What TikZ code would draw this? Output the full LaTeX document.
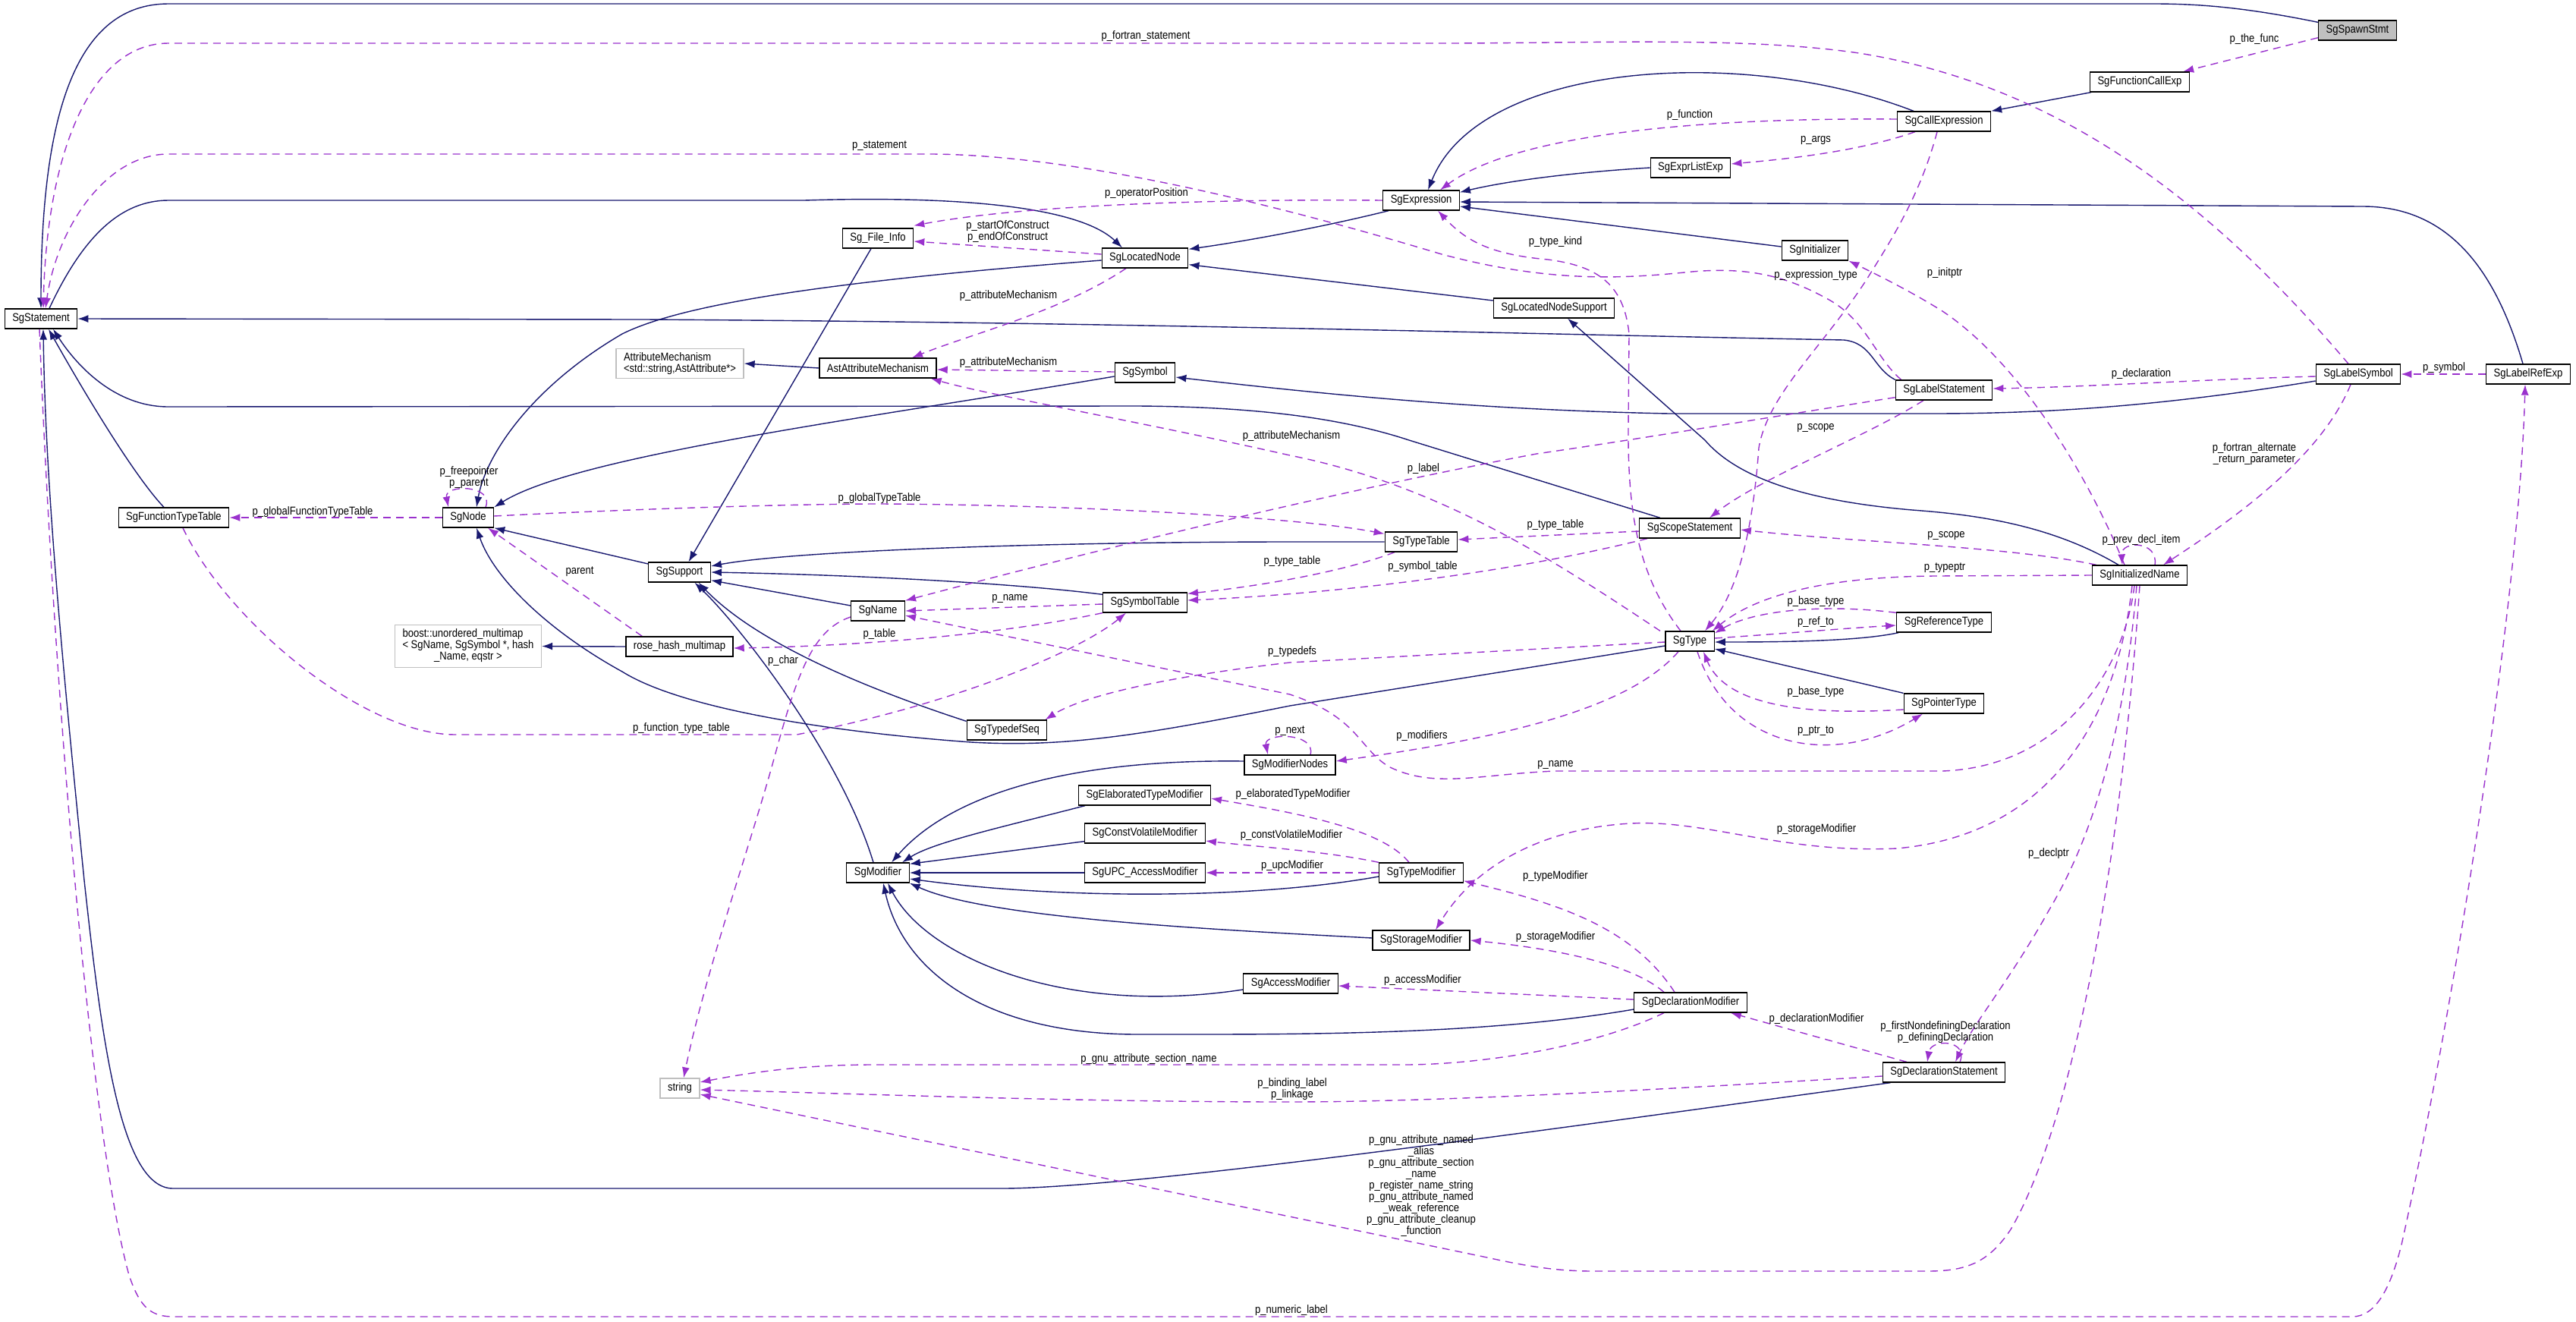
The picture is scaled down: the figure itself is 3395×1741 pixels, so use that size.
\documentclass[tikz,border=0pt]{standalone}
\usepackage{fontspec}
\setmainfont{Liberation Sans}[FakeStretch=0.87]
\usepackage{tikz}
\usetikzlibrary{arrows.meta,backgrounds}
\definecolor{inhblue}{HTML}{191970}
\definecolor{usepurple}{HTML}{9A32CD}
\definecolor{boxgray}{HTML}{BFBFBF}
\newcommand{\dgfont}{\fontsize{15}{15}\selectfont}
\tikzset{
  cls/.style={draw=black, line width=1.3pt, fill=white, font=\dgfont, minimum height=26pt, inner xsep=10pt, inner ysep=5pt},
  ext/.style={cls, draw=boxgray},
  root/.style={cls, fill=boxgray},
  inh/.style={draw=inhblue, line width=1.4pt, -{Latex[length=14pt,width=10pt]}},
  member/.style={draw=usepurple, line width=1.4pt, dash pattern=on 10pt off 7pt, -{Latex[length=14pt,width=10pt]}},
  lbl/.style={font=\dgfont, inner sep=0pt, align=center}
}

\begin{document}
\begin{tikzpicture}[x=1pt,y=-1pt]
    \useasboundingbox (0,0) rectangle (3395,1741);
    % Classes
    \node[root] (SgSpawnStmt) at (3107,40) {SgSpawnStmt};
    \node[cls] (SgFunctionCallExp) at (2820,108) {SgFunctionCallExp};
    \node[cls] (SgCallExpression) at (2562,160) {SgCallExpression};
    \node[cls] (SgExprListExp) at (2228,221) {SgExprListExp};
    \node[cls] (SgExpression) at (1873,264) {SgExpression};
    \node[cls] (SgInitializer) at (2392,330) {SgInitializer};
    \node[cls] (SgLocatedNodeSupport) at (2048,406) {SgLocatedNodeSupport};
    \node[cls] (SgLabelStatement) at (2562,514) {SgLabelStatement};
    \node[cls] (SgFileInfo) at (1157,314) {Sg\_File\_Info};
    \node[cls] (SgLocatedNode) at (1509,340) {SgLocatedNode};
    \node[cls] (AstAttributeMechanism) at (1157,485) {AstAttributeMechanism};
    \node[ext, align=left] (AttributeMechanism) at (896,479) {AttributeMechanism\\<std::string,AstAttribute*>};
    \node[cls] (SgSymbol) at (1509,491) {SgSymbol};
    \node[cls] (SgLabelSymbol) at (3108,493) {SgLabelSymbol};
    \node[cls] (SgLabelRefExp) at (3332,493) {SgLabelRefExp};
    \node[cls] (SgStatement) at (54,420) {SgStatement};
    \node[cls] (SgFunctionTypeTable) at (229,682) {SgFunctionTypeTable};
    \node[cls] (SgNode) at (617,682) {SgNode};
    \node[ext] (boostmap) at (617,851.5) {\begin{tabular}{@{}l@{}}boost::unordered\_multimap\\< SgName, SgSymbol *, hash\\\multicolumn{1}{@{}c@{}}{\_Name, eqstr >}\end{tabular}};
    \node[cls] (rosehash) at (895.5,852) {rose\_hash\_multimap};
    \node[cls] (SgSupport) at (895.5,754) {SgSupport};
    \node[cls] (SgName) at (1157,805) {SgName};
    \node[cls] (SgSymbolTable) at (1509,794) {SgSymbolTable};
    \node[cls] (SgTypeTable) at (1873,714) {SgTypeTable};
    \node[cls] (SgScopeStatement) at (2227,696) {SgScopeStatement};
    \node[cls] (SgType) at (2227,845) {SgType};
    \node[cls] (SgReferenceType) at (2562,820) {SgReferenceType};
    \node[cls] (SgPointerType) at (2562,927) {SgPointerType};
    \node[cls] (SgInitializedName) at (2820,758) {SgInitializedName};
    \node[cls] (SgTypedefSeq) at (1327,962) {SgTypedefSeq};
    \node[cls] (SgModifierNodes) at (1700,1008) {SgModifierNodes};
    \node[cls] (SgElaboratedTypeModifier) at (1508.5,1048) {SgElaboratedTypeModifier};
    \node[cls] (SgConstVolatileModifier) at (1509,1098) {SgConstVolatileModifier};
    \node[cls] (SgUPCAccessModifier) at (1509,1150) {SgUPC\_AccessModifier};
    \node[cls] (SgModifier) at (1157,1150) {SgModifier};
    \node[cls] (SgTypeModifier) at (1873,1150) {SgTypeModifier};
    \node[cls] (SgStorageModifier) at (1873,1239) {SgStorageModifier};
    \node[cls] (SgAccessModifier) at (1701,1296) {SgAccessModifier};
    \node[cls] (SgDeclarationModifier) at (2228,1321) {SgDeclarationModifier};
    \node[cls] (SgDeclarationStatement) at (2562,1413) {SgDeclarationStatement};
    \node[ext] (string) at (896,1434) {string};

    % Member labels
    \node[lbl] (lTheFunc) at (2971,52) {p\_the\_func};
    \node[lbl] (lFortranStmt) at (1510,48) {p\_fortran\_statement};
    \node[lbl] (lStatement) at (1159,192) {p\_statement};
    \node[lbl] (lFunction) at (2227,152) {p\_function};
    \node[lbl] (lArgs) at (2393,185) {p\_args};
    \node[lbl] (lOperatorPos) at (1511,255) {p\_operatorPosition};
    \node[lbl] (lConstruct) at (1328,305.5) {p\_startOfConstruct\\p\_endOfConstruct};
    \node[lbl] (lTypeKind) at (2050,319) {p\_type\_kind};
    \node[lbl] (lExprType) at (2393,363) {p\_expression\_type};
    \node[lbl] (lInitptr) at (2563,360) {p\_initptr};
    \node[lbl] (lAttrA) at (1329,390) {p\_attributeMechanism};
    \node[lbl] (lAttrB) at (1329,478) {p\_attributeMechanism};
    \node[lbl] (lDeclaration) at (2822,493) {p\_declaration};
    \node[lbl] (lSymbol) at (3221,485) {p\_symbol};
    \node[lbl] (lScopeA) at (2393,564) {p\_scope};
    \node[lbl] (lAttrC) at (1702,574.5) {p\_attributeMechanism};
    \node[lbl] (lAltReturn) at (2971,598) {p\_fortran\_alternate\\\_return\_parameter};
    \node[lbl] (lLabel) at (1876,618) {p\_label};
    \node[lbl] (lFreeParent) at (618,629.5) {p\_freepointer\\p\_parent};
    \node[lbl] (lGlobalType) at (1159,656.6) {p\_globalTypeTable};
    \node[lbl] (lGlobalFunc) at (412,675) {p\_globalFunctionTypeTable};
    \node[lbl] (lTypeTableA) at (2050,692) {p\_type\_table};
    \node[lbl] (lScopeB) at (2565,706) {p\_scope};
    \node[lbl] (lPrevDecl) at (2822,712) {p\_prev\_decl\_item};
    \node[lbl] (lTypeTableB) at (1703,740) {p\_type\_table};
    \node[lbl] (lSymbolTable) at (1875,746.5) {p\_symbol\_table};
    \node[lbl] (lTypeptr) at (2563,748) {p\_typeptr};
    \node[lbl] (lParent) at (764,753) {parent};
    \node[lbl] (lNameA) at (1331,789) {p\_name};
    \node[lbl] (lBaseTypeA) at (2393,793) {p\_base\_type};
    \node[lbl] (lRefTo) at (2393,820) {p\_ref\_to};
    \node[lbl] (lTable) at (1159,836) {p\_table};
    \node[lbl] (lTypedefs) at (1703,859) {p\_typedefs};
    \node[lbl] (lChar) at (1032,871) {p\_char};
    \node[lbl] (lBaseTypeB) at (2393,911.5) {p\_base\_type};
    \node[lbl] (lFuncTypeTable) at (898,960) {p\_function\_type\_table};
    \node[lbl] (lNext) at (1700,963) {p\_next};
    \node[lbl] (lPtrTo) at (2393,963) {p\_ptr\_to};
    \node[lbl] (lModifiers) at (1874,970) {p\_modifiers};
    \node[lbl] (lNameB) at (2050,1008) {p\_name};
    \node[lbl] (lElaborated) at (1704,1047) {p\_elaboratedTypeModifier};
    \node[lbl] (lStorageA) at (2394,1093) {p\_storageModifier};
    \node[lbl] (lConstVolatile) at (1702,1100.6) {p\_constVolatileModifier};
    \node[lbl] (lDeclptr) at (2700,1124.6) {p\_declptr};
    \node[lbl] (lUpc) at (1703,1141) {p\_upcModifier};
    \node[lbl] (lTypeModifier) at (2050,1154.5) {p\_typeModifier};
    \node[lbl] (lStorageB) at (2050,1235) {p\_storageModifier};
    \node[lbl] (lAccess) at (1875,1291.5) {p\_accessModifier};
    \node[lbl] (lDeclModifier) at (2394,1342.6) {p\_declarationModifier};
    \node[lbl] (lDefining) at (2564,1360) {p\_firstNondefiningDeclaration\\p\_definingDeclaration};
    \node[lbl] (lSectionName) at (1514,1395.6) {p\_gnu\_attribute\_section\_name};
    \node[lbl] (lBinding) at (1703,1435.5) {p\_binding\_label\\p\_linkage};
    \node[lbl] (lGnu) at (1873,1563) {p\_gnu\_attribute\_named\\\_alias\\p\_gnu\_attribute\_section\\\_name\\p\_register\_name\_string\\p\_gnu\_attribute\_named\\\_weak\_reference\\p\_gnu\_attribute\_cleanup\\\_function};
    \node[lbl] (lNumeric) at (1702,1727) {p\_numeric\_label};

    \begin{scope}[on background layer]
    % Inheritance
    \draw[inh] ([yshift=-3pt]SgSpawnStmt.north west) .. controls (2960,10) and (2900,5) .. (2838,5) -- (222,5) .. controls (100,5) and (54,150) .. (SgStatement.north);
    \draw[inh] ([xshift=2pt]SgFunctionCallExp.south west) -- (SgCallExpression.north east);
    \draw[inh] ([xshift=-40pt]SgCallExpression.north) .. controls (2300,60) and (1950,80) .. ([xshift=9pt]SgExpression.north);
    \draw[inh] (SgExprListExp.west) .. controls (2060,228) and (1980,240) .. ([yshift=-3pt]SgExpression.north east);
    \draw[inh] ([xshift=-7pt]SgLabelRefExp.north) .. controls (3290,360) and (3230,272) .. (3114,272) -- ([yshift=-2pt]SgExpression.east);
    \draw[inh] ([yshift=5pt]SgInitializer.west) -- ([yshift=-8pt]SgExpression.east);
    \draw[inh] ([xshift=8pt]SgExpression.south west) .. controls (1740,300) and (1640,318) .. ([yshift=-2pt]SgLocatedNode.north east);
    \draw[inh] ([yshift=10pt]SgLocatedNodeSupport.west) -- ([yshift=5pt]SgLocatedNode.south east);
    \draw[inh] ([xshift=11pt]SgStatement.north) .. controls (110,310) and (160,264) .. (222,264) -- (1060,264) .. controls (1250,258) and (1420,270) .. ([xshift=-30pt]SgLocatedNode.north);
    \draw[inh] ([yshift=-3pt]SgLocatedNode.west) .. controls (1100,370) and (900,400) .. (820,440) .. controls (700,510) and (640,600) .. ([xshift=11pt]SgNode.north);
    \draw[inh] (SgLabelStatement.north west) .. controls (2468,485) and (2468,452) .. (2430,448) .. controls (2000,440) and (1500,425) .. (850,421) -- (SgStatement.east);
    \draw[inh] ([xshift=-39pt]SgScopeStatement.north) -- (1857,580) .. controls (1760,548) and (1640,536) .. (1500,535) -- (222,536) .. controls (150,536) and (100,480) .. ([xshift=16pt]SgStatement.south);
    \draw[inh] ([xshift=-13pt]SgFunctionTypeTable.north) .. controls (170,620) and (90,480) .. ([xshift=10pt]SgStatement.south);
    \draw[inh] ([xshift=11pt]SgDeclarationStatement.south west) .. controls (2100,1480) and (1500,1566) .. (1320,1566) -- (228,1566) .. controls (160,1566) and (135,1380) .. (111,1160) .. controls (85,900) and (60,650) .. ([xshift=3pt]SgStatement.south);
    \draw[inh] (AstAttributeMechanism.west) -- (AttributeMechanism.east);
    \draw[inh] ([xshift=-9pt]SgFileInfo.south) -- ([xshift=12pt]SgSupport.north);
    \draw[inh] ([yshift=-5pt]SgSymbol.west) .. controls (1150,550) and (760,600) .. (SgNode.north east);
    \draw[inh] ([yshift=11pt]SgSupport.west) -- (SgNode.south east);
    \draw[inh] ([yshift=-6pt]SgType.west) -- (1700,930) .. controls (1500,970) and (1400,985) .. (1280,978) .. controls (1100,965) and (900,935) .. (820,885) .. controls (720,830) and (650,760) .. ([xshift=11pt]SgNode.south);
    \draw[inh] (rosehash.west) -- (boostmap.east);
    \draw[inh] ([yshift=7pt]SgName.west) -- ([yshift=3pt]SgSupport.south east);
    \draw[inh] ([yshift=-3pt]SgSymbolTable.north west) .. controls (1350,770) and (1150,758) .. (SgSupport.east);
    \draw[inh] (SgTypeTable.west) -- (1700,714) .. controls (1400,714) and (1050,725) .. ([yshift=8pt]SgSupport.east);
    \draw[inh] ([yshift=-2pt]SgTypedefSeq.north west) .. controls (1150,910) and (1000,850) .. ([xshift=25pt]SgSupport.south);
    \draw[inh] ([xshift=-6pt]SgModifier.north) .. controls (1110,1000) and (980,830) .. ([xshift=20pt]SgSupport.south);
    \draw[inh] ([yshift=5pt]SgModifierNodes.west) .. controls (1400,1000) and (1250,1050) .. ([xshift=18pt]SgModifier.north);
    \draw[inh] ([xshift=9pt]SgElaboratedTypeModifier.south west) .. controls (1320,1090) and (1230,1110) .. ([xshift=32pt]SgModifier.north);
    \draw[inh] ([yshift=3pt]SgConstVolatileModifier.south west) -- ([yshift=-2pt]SgModifier.north east);
    \draw[inh] (SgUPCAccessModifier.west) -- (SgModifier.east);
    \draw[inh] ([yshift=-5pt]SgTypeModifier.west) .. controls (1650,1185) and (1400,1185) .. ([yshift=-8pt]SgModifier.east);
    \draw[inh] ([yshift=3pt]SgStorageModifier.west) .. controls (1600,1225) and (1300,1210) .. (SgModifier.south east);
    \draw[inh] ([yshift=-8pt]SgAccessModifier.west) .. controls (1400,1340) and (1220,1260) .. ([xshift=13pt]SgModifier.south);
    \draw[inh] ([yshift=-9pt]SgDeclarationModifier.west) .. controls (1950,1365) and (1700,1363) .. (1500,1363) .. controls (1300,1363) and (1190,1280) .. ([xshift=7pt]SgModifier.south);
    \draw[inh] ([yshift=-9pt]SgLabelSymbol.west) .. controls (2850,535) and (2700,545) .. (2545,545) -- (2200,545) .. controls (1950,540) and (1750,520) .. ([yshift=-6pt]SgSymbol.east);
    \draw[inh] ([xshift=-28pt]SgInitializedName.north) .. controls (2700,690) and (2600,678) .. (2520,672) .. controls (2380,660) and (2290,630) .. (2247,580) -- ([xshift=18pt]SgLocatedNodeSupport.south);
    \draw[inh] ([xshift=3pt]SgReferenceType.south west) .. controls (2450,845) and (2350,846) .. ([yshift=-1pt]SgType.east);
    \draw[inh] (SgPointerType.north west) -- ([yshift=-10pt]SgType.east);

    % Members
    \draw[member] ([yshift=4pt]SgSpawnStmt.south west) -- ([xshift=-9pt]SgFunctionCallExp.north east);
    \draw[member] ([xshift=-13pt]SgLabelSymbol.north) .. controls (2900,250) and (2700,110) .. (2450,70) .. controls (2300,48) and (2100,57) .. (1900,57) -- (222,57) .. controls (120,57) and (62,200) .. ([xshift=3pt]SgStatement.north);
    \draw[member] ([xshift=8pt]SgLabelStatement.north west) .. controls (2470,470) and (2460,420) .. (2405,392) .. controls (2350,362) and (2300,352) .. (2230,358) .. controls (2150,366) and (2050,375) .. (1900,335) .. controls (1750,290) and (1450,205) .. (1229,203) -- (222,203) .. controls (140,203) and (75,300) .. ([xshift=6pt]SgStatement.north);
    \draw[member] ([yshift=3pt]SgCallExpression.west) .. controls (2250,155) and (2000,175) .. ([xshift=25pt]SgExpression.north);
    \draw[member] ([xshift=-38pt]SgCallExpression.south) .. controls (2450,200) and (2350,210) .. ([yshift=5pt]SgExprListExp.east);
    \draw[member] (SgExpression.west) .. controls (1600,262) and (1350,270) .. ([yshift=3pt]SgFileInfo.north east);
    \draw[member] ([yshift=5pt]SgLocatedNode.west) -- ([yshift=-4pt]SgFileInfo.east);
    \draw[member] ([xshift=-25pt]SgLocatedNode.south) .. controls (1400,410) and (1280,440) .. ([xshift=45pt]AstAttributeMechanism.north);
    \draw[member] ([yshift=1pt]SgSymbol.west) -- ([yshift=-2pt]AstAttributeMechanism.east);
    \draw[member] ([xshift=-39pt]SgType.north) .. controls (2050,740) and (1900,640) .. (1700,600) .. controls (1500,555) and (1300,520) .. ([xshift=-8pt]AstAttributeMechanism.south east);
    \draw[member] ([yshift=4pt]SgLabelStatement.south west) .. controls (2300,555) and (2150,580) .. (2025,598) .. controls (1800,640) and (1500,710) .. (SgName.north east);
    \draw[member] ([yshift=-3pt]SgLabelSymbol.west) .. controls (2900,500) and (2750,510) .. ([yshift=2pt]SgLabelStatement.east);
    \draw[member] (SgLabelRefExp.west) -- (SgLabelSymbol.east);
    \draw[member] ([xshift=-27pt]SgLabelStatement.south) .. controls (2460,575) and (2320,630) .. ([xshift=26pt]SgScopeStatement.north);
    \draw[member] ([xshift=6pt]SgInitializedName.north west) .. controls (2650,720) and (2450,715) .. ([yshift=-2pt]SgScopeStatement.east);
    \draw[member] ([yshift=-4pt]SgScopeStatement.west) -- ([yshift=3pt]SgTypeTable.east);
    \draw[member] ([xshift=11pt]SgScopeStatement.south west) .. controls (1950,765) and (1700,785) .. ([yshift=3pt]SgSymbolTable.east);
    \draw[member] ([xshift=-35pt]SgTypeTable.south) .. controls (1780,750) and (1680,770) .. ([yshift=-2pt]SgSymbolTable.north east);
    \draw[member] ([yshift=2pt]SgNode.east) .. controls (850,670) and (1050,664) .. (1160,664) .. controls (1400,665) and (1700,680) .. ([yshift=-3pt]SgTypeTable.north west);
    \draw[member] (SgNode.west) -- (SgFunctionTypeTable.east);
    \draw[member] ([xshift=23pt]SgNode.north) .. controls (652,638) and (585,638) .. ([xshift=-26pt]SgNode.north);
    \draw[member] ([xshift=22pt]rosehash.north west) -- ([xshift=26pt]SgNode.south);
    \draw[member] (SgSymbolTable.south west) .. controls (1300,840) and (1100,852) .. ([yshift=-2pt]rosehash.east);
    \draw[member] ([yshift=-2pt]SgSymbolTable.west) -- (SgName.east);
    \draw[member] ([yshift=-8pt]SgName.west) .. controls (1070,830) and (1050,890) .. (1020,1000) .. controls (990,1110) and (930,1280) .. ([xshift=5pt]string.north);
    \draw[member] ([xshift=12pt]SgFunctionTypeTable.south) .. controls (300,820) and (480,968) .. (600,968) -- (1050,968) .. controls (1250,930) and (1420,860) .. ([xshift=-25pt]SgSymbolTable.south);
    \draw[member] ([xshift=-7pt]SgInitializedName.south) .. controls (2800,880) and (2720,1010) .. (2560,1016) -- (2050,1016) .. controls (1950,1020) and (1890,1040) .. (1830,1010) .. controls (1790,985) and (1790,945) .. (1700,915) -- ([yshift=-6pt]SgName.east);
    \draw[member] ([yshift=-1pt]SgType.west) -- (1700,873) .. controls (1550,890) and (1430,915) .. ([xshift=-3pt]SgTypedefSeq.north east);
    \draw[member] ([xshift=-15pt]SgType.south) .. controls (2150,930) and (2000,970) .. ([yshift=5pt]SgModifierNodes.east);
    \draw[member] ([xshift=27pt]SgModifierNodes.north) .. controls (1735,965) and (1665,965) .. ([xshift=-29pt]SgModifierNodes.north);
    \draw[member] ([xshift=-16pt]SgTypeModifier.north) .. controls (1820,1090) and (1700,1070) .. ([yshift=-4pt]SgElaboratedTypeModifier.east);
    \draw[member] (SgTypeModifier.north west) .. controls (1750,1122) and (1650,1115) .. ([yshift=-10pt]SgConstVolatileModifier.east);
    \draw[member] (SgTypeModifier.west) -- (SgUPCAccessModifier.east);
    \draw[member] ([xshift=-21pt]SgDeclarationModifier.north) .. controls (2150,1220) and (2050,1190) .. ([yshift=3pt]SgTypeModifier.south east);
    \draw[member] ([xshift=-10pt]SgInitializedName.south) .. controls (2790,950) and (2700,1100) .. (2500,1118) .. controls (2350,1125) and (2250,1080) .. (2150,1085) .. controls (2050,1090) and (1950,1130) .. ([xshift=19pt]SgStorageModifier.north);
    \draw[member] ([xshift=-35pt]SgDeclarationModifier.north) .. controls (2150,1270) and (2050,1250) .. (SgStorageModifier.east);
    \draw[member] ([yshift=4pt]SgDeclarationModifier.west) -- ([yshift=-3pt]SgAccessModifier.east);
    \draw[member] ([xshift=-35pt]SgDeclarationModifier.south) .. controls (2100,1380) and (1950,1403) .. (1850,1403) -- (1150,1403) .. controls (1050,1403) and (980,1415) .. ([yshift=8pt]string.east);
    \draw[member] ([yshift=-5pt]SgDeclarationStatement.west) .. controls (2200,1435) and (1900,1452) .. (1700,1452) .. controls (1400,1452) and (1100,1440) .. ([yshift=-2pt]string.east);
    \draw[member] ([xshift=-49pt]SgDeclarationStatement.north) -- ([xshift=-22pt]SgDeclarationModifier.south east);
    \draw[member] ([xshift=21pt]SgDeclarationStatement.north) .. controls (2595,1370) and (2545,1368) .. ([xshift=-22pt]SgDeclarationStatement.north);
    \draw[member] ([xshift=-4pt]SgInitializedName.south) .. controls (2800,960) and (2760,1100) .. (2700,1200) .. controls (2650,1290) and (2600,1350) .. ([xshift=15pt]SgDeclarationStatement.north);
    \draw[member] (SgInitializedName.south) .. controls (2790,1200) and (2720,1500) .. (2650,1620) .. controls (2620,1665) and (2590,1675) .. (2540,1675) -- (2100,1675) .. controls (2050,1675) and (2010,1668) .. (1960,1657) -- ([yshift=-8pt]string.east);
    \draw[member] ([xshift=-2pt]SgStatement.south) .. controls (70,900) and (120,1500) .. (170,1680) .. controls (185,1725) and (200,1735) .. (230,1735) -- (3100,1735) .. controls (3130,1735) and (3150,1700) .. (3165,1640) .. controls (3230,1350) and (3320,800) .. ([xshift=-4pt]SgLabelRefExp.south);
    \draw[member] ([xshift=-10pt]SgLabelSymbol.south) .. controls (3060,600) and (2950,680) .. ([xshift=31pt]SgInitializedName.north);
    \draw[member] ([xshift=20pt]SgInitializedName.north) .. controls (2845,712) and (2795,712) .. ([xshift=-23pt]SgInitializedName.north);
    \draw[member] ([xshift=-20pt]SgInitializedName.north) .. controls (2740,600) and (2650,470) .. (2560,410) .. controls (2520,385) and (2480,365) .. (SgInitializer.south east);
    \draw[member] (SgInitializedName.west) -- (2550,759) .. controls (2420,760) and (2320,780) .. ([xshift=-3pt]SgType.north east);
    \draw[member] ([yshift=-1pt]SgReferenceType.north west) .. controls (2400,795) and (2310,805) .. ([yshift=-3pt]SgType.north east);
    \draw[member] ([yshift=4pt]SgType.east) .. controls (2350,835) and (2430,828) .. ([yshift=-4pt]SgReferenceType.west);
    \draw[member] ([yshift=-8pt]SgPointerType.west) .. controls (2350,945) and (2270,920) .. ([xshift=18pt]SgType.south);
    \draw[member] ([xshift=10pt]SgType.south) .. controls (2280,990) and (2420,1010) .. ([xshift=-28pt]SgPointerType.south);
    \draw[member] ([xshift=-12pt]SgType.north) .. controls (2160,760) and (2145,680) .. (2146,560) -- (2147,440) .. controls (2140,370) and (2100,350) .. (2040,342) .. controls (1960,335) and (1930,315) .. ([xshift=22pt]SgExpression.south);
    \draw[member] ([xshift=-9pt]SgCallExpression.south) .. controls (2530,260) and (2490,320) .. (2459,370) .. controls (2400,460) and (2330,520) .. (2318,590) .. controls (2310,700) and (2290,780) .. ([xshift=20pt]SgType.north);
    \end{scope}
\end{tikzpicture}
\end{document}
